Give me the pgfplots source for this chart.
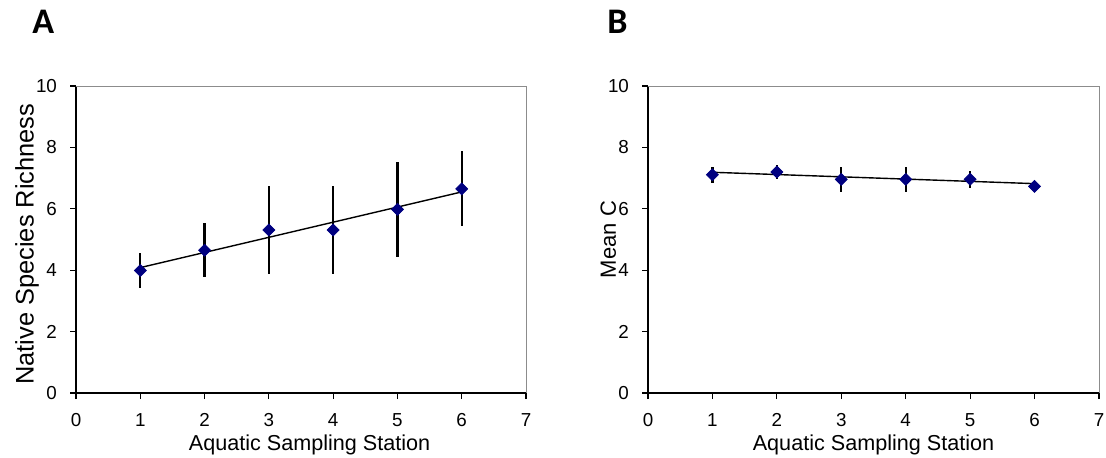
\documentclass[border=0pt]{standalone}
\usepackage{pgfplots}
\pgfplotsset{compat=1.18}
\usepackage{fontspec}
\setmainfont{Liberation Sans}
\newfontfamily\carlito{Carlito}
\definecolor{navy}{HTML}{000080}
\definecolor{framegray}{HTML}{8C8C8C}

\pgfplotstableread{
x y e
1 3.99 0.57
2 4.65 0.88
3 5.31 1.43
4 5.31 1.43
5 5.98 1.54
6 6.65 1.22
}\richness

\pgfplotstableread{
x y e
1 7.11 0.26
2 7.20 0.23
3 6.96 0.41
4 6.96 0.41
5 6.96 0.28
6 6.73 0.05
}\meanc

\pgfplotsset{
  panel/.style={
    scale only axis, width=225pt, height=153.5pt,
    anchor=south west,
    xmin=0, xmax=7, ymin=0, ymax=10,
    xtick={0,1,...,7}, ytick={0,2,...,10},
    axis x line*=bottom, axis y line*=left,
    axis line style={line width=1pt, black, -},
    tick align=outside, major tick length=3pt,
    tick style={black, line width=0.6pt},
    /pgf/number format/assume math mode=true,
    ticklabel style={font=\fontsize{9.4}{11}\selectfont},
    xticklabel style={yshift=-3.5pt},
    yticklabel style={xshift=-3pt},
    clip=false,
  },
  pts/.style={only marks, mark=square*, mark size=2.1pt,
    mark options={rotate=45, fill=navy, draw=navy},
    error bars/.cd, y dir=both, y explicit, error mark=none,
    error bar style={line width=1.2pt, black}},
}

\begin{document}
\begin{tikzpicture}
\useasboundingbox (0,0) rectangle (553pt,228.5pt);

\begin{axis}[panel, at={(38pt,32pt)},
  xlabel={Aquatic Sampling Station},
  xlabel style={at={(axis description cs:0.519,-0.1857)}, anchor=base, font=\fontsize{10.8}{12}\selectfont},
  ylabel={Native Species Richness},
  ylabel style={at={(axis description cs:-0.094,0.485)}, anchor=base, font=\fontsize{12.7}{15}\selectfont},
]
\draw[framegray, line width=0.5pt] (rel axis cs:0,1) -- (rel axis cs:1,1) -- (rel axis cs:1,0);
\addplot[black, line width=0.7pt, mark=none] coordinates {(1,4.085) (6,6.55)};
\addplot[pts] table[x=x, y=y, y error=e] {\richness};
\end{axis}

\begin{axis}[panel, at={(324pt,32pt)}, width=225.5pt,
  xlabel={Aquatic Sampling Station},
  xlabel style={at={(axis description cs:0.5,-0.1857)}, anchor=base, font=\fontsize{10.8}{12}\selectfont},
  ylabel={Mean C},
  ylabel style={at={(axis description cs:-0.071,0.5)}, anchor=base, font=\fontsize{11}{12}\selectfont},
]
\draw[framegray, line width=0.5pt] (rel axis cs:0,1) -- (rel axis cs:1,1) -- (rel axis cs:1,0);
\addplot[black, line width=0.7pt, mark=none] coordinates {(1,7.19) (6,6.82)};
\addplot[pts] table[x=x, y=y, y error=e] {\meanc};
\end{axis}

\node[anchor=base west, inner sep=0pt, font=\carlito\bfseries\fontsize{18}{20}\selectfont] at (16pt,212pt) {A};
\node[anchor=base west, inner sep=0pt, font=\carlito\bfseries\fontsize{18}{20}\selectfont] at (303.5pt,212pt) {B};
\end{tikzpicture}
\end{document}
